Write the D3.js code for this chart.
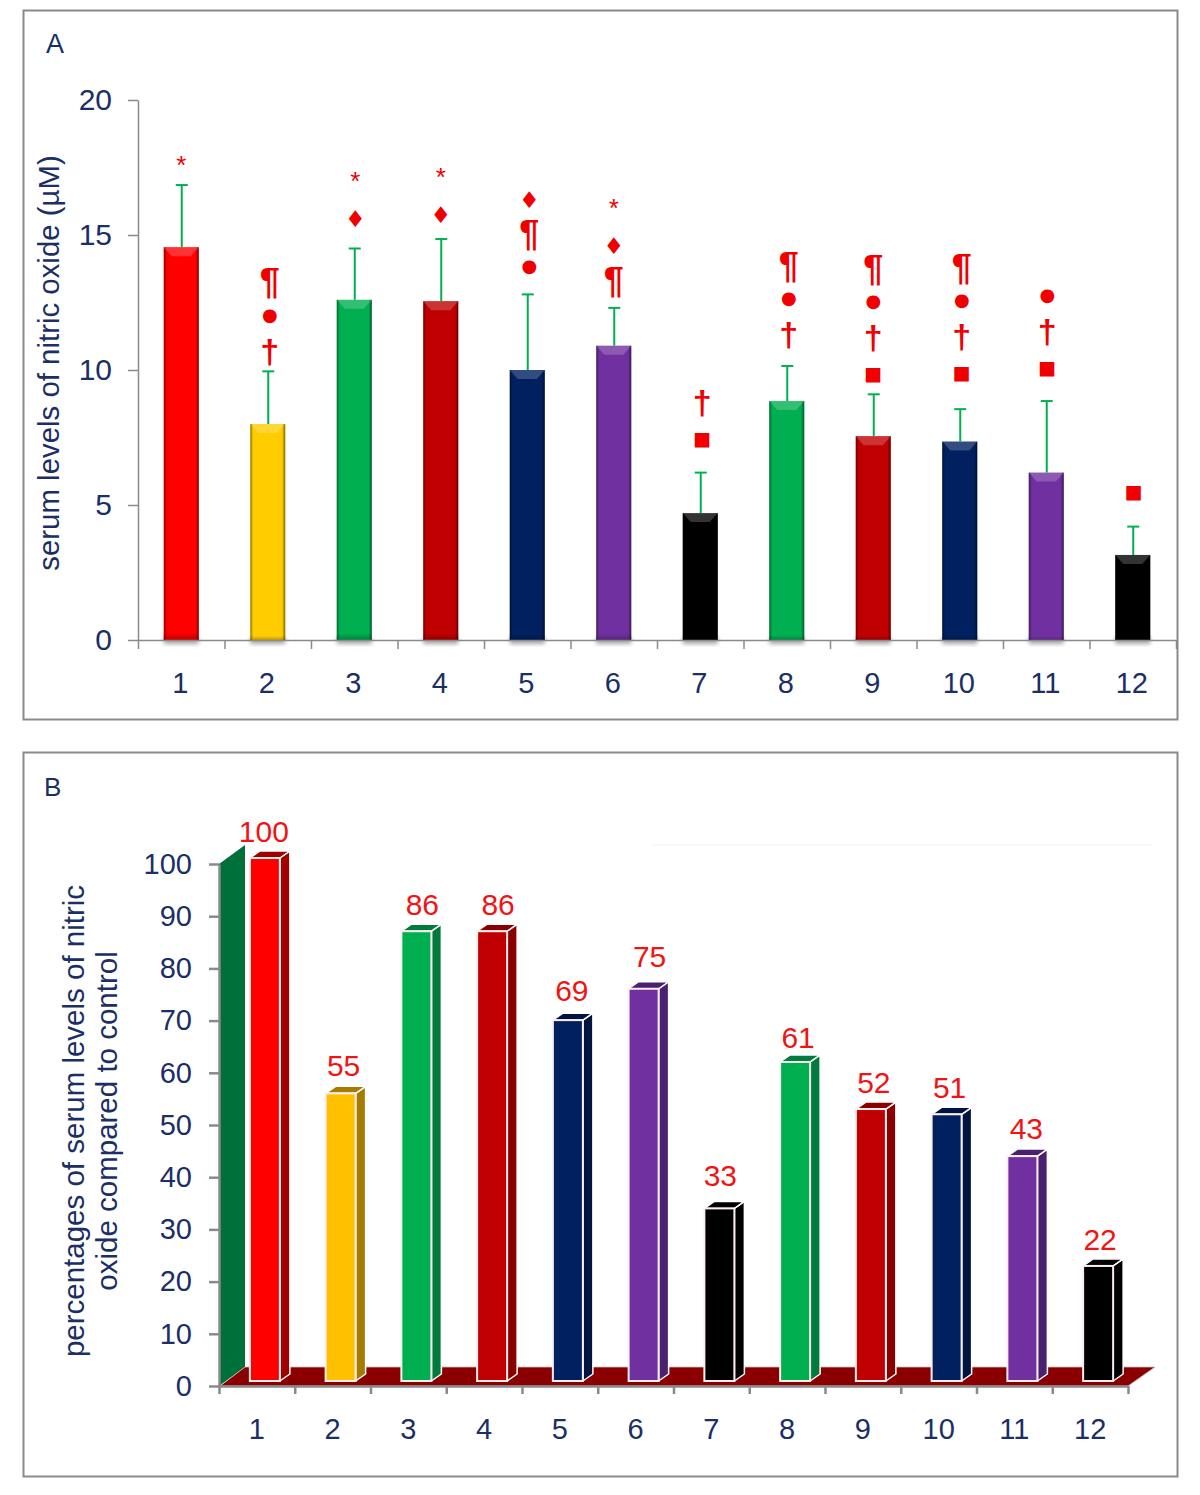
<!DOCTYPE html>
<html><head><meta charset="utf-8">
<script src="https://cdn.jsdelivr.net/npm/d3@7/dist/d3.min.js"></script>
<style>html,body{margin:0;padding:0;background:#fff}svg{display:block}text{font-family:"Liberation Sans",Arial,sans-serif}</style>
</head><body><div id="c"></div>
<script>
const categories = ["1","2","3","4","5","6","7","8","9","10","11","12"];
const colors = ["#ff0000","#ffc000","#00b050","#c00000","#002060","#7030a0","#000000","#00b050","#c00000","#002060","#7030a0","#000000"];
const sideColors = ["#a00000","#a67c00","#007a3d","#8a0000","#00143f","#4a2070","#000000","#007a3d","#8a0000","#00143f","#4a2070","#000000"];
const meanA = [14.55,8.0,12.6,12.55,10.0,10.9,4.7,8.85,7.55,7.35,6.2,3.15];
const errTopA = [16.85,9.95,14.5,14.85,12.8,12.3,6.2,10.15,9.1,8.55,8.85,4.2];
const ticksA = [0,5,10,15,20];
const marks = [["*"],["¶","●","†"],["*","♦"],["*","♦"],["♦","¶","●"],["*","♦","¶"],["†","■"],["¶","●","†"],["¶","●","†","■"],["¶","●","†","■"],["●","†","■"],["■"]];
const markLevels = [[17.7],[13.22,11.93,10.63],[17.1,15.6],[17.25,15.75],[16.3,15.0,13.74],[16.1,14.6,13.25],[8.74,7.41],[13.8,12.55,11.26],[13.7,12.45,11.15,9.8],[13.74,12.5,11.2,9.85],[12.66,11.37,10.04],[5.44]];
const percentB = [100,55,86,86,69,75,33,61,52,51,43,22];
const labelLevelB = [103.1,58.3,89.1,89.1,72.6,79.1,37.3,63.7,55.1,54.1,46.3,25];
const ticksB = d3.range(0,101,10);

const navy = "#1b2f66", grey = "#8a8a8a", redText = "#f01414";
const tickFont = 29;
const markNudge = [0,2,1,0,2,0,2,2,0,2,1,1];
const labelNudge = [-4,0,3,3,1,3,-2,0,0,0,1,-1];
const svg = d3.select("#c").append("svg").attr("width",1200).attr("height",1495);
const defs = svg.append("defs");
defs.append("filter").attr("id","blur").attr("x","-30%").attr("y","-30%").attr("width","160%").attr("height","160%")
  .append("feGaussianBlur").attr("stdDeviation",2);
const edge = defs.append("linearGradient").attr("id","edge");
[[0,.4],[.09,0],[.91,0],[1,.5]].forEach(([o,a])=>edge.append("stop").attr("offset",o).attr("stop-color","#000").attr("stop-opacity",a));
const vedge = defs.append("linearGradient").attr("id","vedge").attr("x2",0).attr("y2",1);
[[0,0],[.98,0],[1,.25]].forEach(([o,a])=>vedge.append("stop").attr("offset",o).attr("stop-color","#000").attr("stop-opacity",a));

function frame(y,h){svg.append("rect").attr("x",23.5).attr("y",y).attr("width",1154).attr("height",h).attr("fill","#fff").attr("stroke",grey).attr("stroke-width",2);}
frame(10.5,709); frame(752.5,724);

function styleAxis(g,size){
  g.selectAll("path,line").attr("stroke",grey).attr("stroke-width",size);
  g.selectAll("text").attr("fill",navy).attr("font-size",tickFont).style("font-family",'"Liberation Sans",Arial,sans-serif');
}
/* ---------- Panel A ---------- */
const yA = d3.scaleLinear().domain([0,20]).range([640,100]);
const xA = d3.scaleBand().domain(categories).range([138,1176]);
const edgesA = d3.scaleLinear().domain([0,12]).range([138,1176]);
const bwA = 35;
const gA = svg.append("g");
gA.append("text").attr("x",46).attr("y",53).attr("font-size",27).attr("fill",navy).text("A");

const barFill = (d,i)=>i===1?"#ffcc00":colors[i];
const barsA = gA.selectAll(".barA").data(categories).join("g");
barsA.append("rect").attr("x",d=>xA(d)+xA.bandwidth()/2-bwA/2).attr("width",bwA)
  .attr("y",637).attr("height",7).attr("fill","#000").attr("opacity",.35).attr("filter","url(#blur)");
barsA.append("rect").attr("x",d=>xA(d)+xA.bandwidth()/2-bwA/2).attr("width",bwA)
  .attr("y",(d,i)=>yA(meanA[i])).attr("height",(d,i)=>yA(0)-yA(meanA[i])).attr("fill",barFill);
barsA.append("rect").attr("x",d=>xA(d)+xA.bandwidth()/2-bwA/2).attr("width",bwA)
  .attr("y",(d,i)=>yA(meanA[i])).attr("height",(d,i)=>yA(0)-yA(meanA[i])).attr("fill","url(#edge)");
barsA.append("path").attr("d",(d,i)=>{const c=xA(d)+xA.bandwidth()/2,t=yA(meanA[i]);
    return d3.line()([[c-bwA/2,t],[c+bwA/2,t],[c+bwA/2-8,t+9],[c-bwA/2+8,t+9]])+"Z";})
  .attr("fill","#fff").attr("opacity",.2);
barsA.append("rect").attr("x",d=>xA(d)+xA.bandwidth()/2-bwA/2).attr("width",bwA)
  .attr("y",(d,i)=>yA(meanA[i])).attr("height",(d,i)=>yA(0)-yA(meanA[i])).attr("fill","url(#vedge)");

const errA = gA.selectAll(".errA").data(categories).join("g").attr("stroke","#00b050").attr("stroke-width",2);
errA.append("line").attr("x1",d=>xA(d)+xA.bandwidth()/2+.5).attr("x2",d=>xA(d)+xA.bandwidth()/2+.5)
  .attr("y1",(d,i)=>yA(meanA[i])).attr("y2",(d,i)=>yA(errTopA[i]));
errA.append("line").attr("x1",d=>xA(d)+xA.bandwidth()/2-5.5).attr("x2",d=>xA(d)+xA.bandwidth()/2+6.5)
  .attr("y1",(d,i)=>yA(errTopA[i])).attr("y2",(d,i)=>yA(errTopA[i]));

const markSize = {"*":26,"♦":23,"●":18,"■":19,"¶":36,"†":34};
const markWeight = {"*":"normal","♦":"bold","●":"bold","■":"bold","¶":"bold","†":"bold"};
const markFont = {"*":'"Liberation Sans"',"♦":'"DejaVu Sans"',"●":'"DejaVu Sans"',"■":'"DejaVu Sans"',"¶":'"Liberation Sans"',"†":'"Liberation Sans"'};
const markDy = {"*":12,"♦":8.5,"●":3.2,"■":5,"¶":10.5,"†":10};
categories.forEach((c,i)=>{
  marks[i].forEach((m,j)=>{
    gA.append("text").attr("x",xA(c)+xA.bandwidth()/2+markNudge[i]).attr("y",yA(markLevels[i][j])+markDy[m])
      .attr("text-anchor","middle").attr("fill","#f00000").attr("font-weight",markWeight[m])
      .attr("font-size",markSize[m]).style("font-family",markFont[m]).text(m);
  });
});

const axYA = gA.append("g").attr("transform","translate(138,0)")
  .call(d3.axisLeft(yA).tickValues(ticksA).tickSize(10).tickPadding(16).tickSizeOuter(0));
styleAxis(axYA,1.5); axYA.selectAll("text").attr("font-size",30);
const axXA = gA.append("g").attr("transform","translate(0,640)")
  .call(d3.axisBottom(edgesA).tickValues(d3.range(0,13)).tickFormat("").tickSize(9).tickSizeOuter(0));
styleAxis(axXA,1.5);
const lblA = gA.append("g").attr("transform","translate(-1,645)")
  .call(d3.axisBottom(xA).tickSize(0).tickPadding(27));
lblA.select(".domain").remove(); styleAxis(lblA,0);
gA.append("text").attr("transform","translate(59,363) rotate(-90)").attr("text-anchor","middle")
  .attr("font-size",29.4).attr("fill",navy).text("serum levels of nitric oxide (µM)");

/* ---------- Panel B ---------- */
const yB = d3.scaleLinear().domain([0,100]).range([1386,864]);
const yBar = d3.scaleLinear().domain([0,100]).range([1381,858]);
const xB = d3.scaleBand().domain(categories).range([219,1128]);
const edgesB = d3.scaleLinear().domain([0,12]).range([219,1128]);
const bwB = 30, dxB = 10, dyB = 7, barOffset = 8;
const gB = svg.append("g");
gB.append("text").attr("x",44).attr("y",796).attr("font-size",26).attr("fill",navy).text("B");
gB.append("line").attr("x1",652).attr("x2",1153).attr("y1",845).attr("y2",845).attr("stroke","#f1f3ee").attr("stroke-width",1);
gB.append("path").attr("d",d3.line()([[219,yB(100)],[245,845],[245,yB(0)-19],[219,yB(0)]])+"Z").attr("fill","#00703a");
gB.append("path").attr("d",d3.line()([[220,yB(0)],[245,yB(0)-19],[1155,yB(0)-19],[1128,yB(0)]])+"Z")
  .attr("fill","#8a0000").attr("stroke","#c9b9b9").attr("stroke-width",.8);

const barsB = gB.selectAll(".barB").data(categories).join("g");
const cx = d=>xB(d)+xB.bandwidth()/2+barOffset;
barsB.append("path").attr("fill",(d,i)=>sideColors[i]).attr("stroke","#fff").attr("stroke-width",1.5).attr("stroke-linejoin","round")
  .attr("d",(d,i)=>{const r=cx(d)+bwB/2,t=yBar(percentB[i]),b=yBar(0);
    return d3.line()([[r,b],[r+dxB,b-dyB],[r+dxB,t-dyB],[r,t]])+"Z";});
barsB.append("path").attr("fill",(d,i)=>sideColors[i]).attr("stroke","#fff").attr("stroke-width",1.5).attr("stroke-linejoin","round")
  .attr("d",(d,i)=>{const r=cx(d)+bwB/2,l=r-bwB,t=yBar(percentB[i]);
    return d3.line()([[l,t],[l+dxB,t-dyB],[r+dxB,t-dyB],[r,t]])+"Z";});
barsB.append("rect").attr("x",d=>cx(d)-bwB/2).attr("width",bwB)
  .attr("y",(d,i)=>yBar(percentB[i])).attr("height",(d,i)=>yBar(0)-yBar(percentB[i]))
  .attr("fill",(d,i)=>colors[i]).attr("stroke","#fbeeee").attr("stroke-width",2);
gB.selectAll(".lblB").data(categories).join("text")
  .attr("x",(d,i)=>cx(d)+3+labelNudge[i]).attr("y",(d,i)=>yBar(labelLevelB[i]))
  .attr("text-anchor","middle").attr("font-size",30).attr("fill",redText).text((d,i)=>percentB[i]);

const axYB = gB.append("g").attr("transform","translate(219,0)")
  .call(d3.axisLeft(yB).tickValues(ticksB).tickSize(10).tickPadding(17).tickSizeOuter(0));
styleAxis(axYB,2.5);
const axXB = gB.append("g").attr("transform","translate(0,1386)")
  .call(d3.axisBottom(edgesB).tickValues(d3.range(0,13)).tickFormat("").tickSize(8).tickSizeOuter(0));
styleAxis(axXB,2.5);
const lblB = gB.append("g").attr("transform","translate(0,1391)")
  .call(d3.axisBottom(xB).tickSize(0).tickPadding(27));
lblB.select(".domain").remove(); styleAxis(lblB,0);
const titleB = gB.append("text").attr("transform","translate(84,1121) rotate(-90)").attr("text-anchor","middle").attr("font-size",29.5).attr("fill",navy);
titleB.append("tspan").attr("x",0).attr("y",0).text("percentages of serum levels of nitric");
titleB.append("tspan").attr("x",0).attr("y",33).text("oxide compared to control");
</script></body></html>
